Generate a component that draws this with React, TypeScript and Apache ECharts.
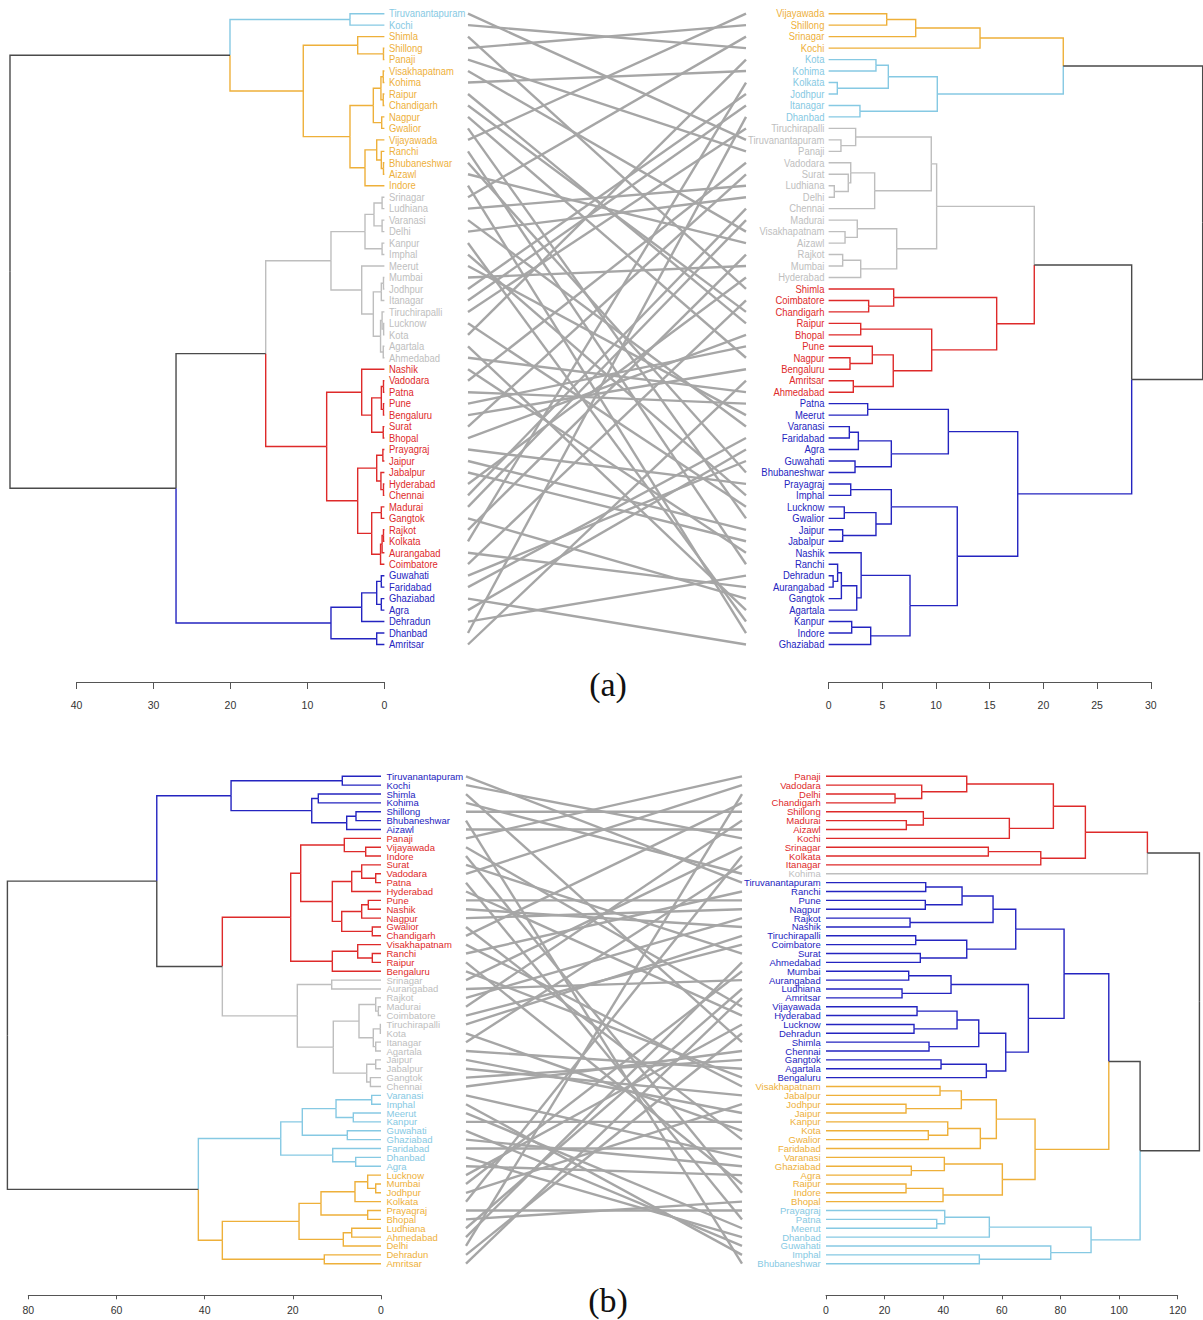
import React, { useEffect, useRef } from "react";
import * as echarts from "echarts";

// Tree node: leaf name | [mergeHeight, left, right] | cluster wrapper {c: colourKey, t: node}
type Node = any;
const C = (c: string, t: Node): Node => ({ c, t });

const COLORS: Record<string, string> = {
  black: "#4a4a4a",
  cyan: "#86c9e3",
  orange: "#eeb03a",
  grey: "#bebebe",
  red: "#de2a2a",
  blue: "#2424c0",
};

// ---------- (a) left dendrogram ----------
const aLeftCyan: Node = [4.47, "Tiruvanantapuram", "Kochi"];
const aLeftOrange: Node = [10.54,
  [3.47, "Shimla", [0.12, "Shillong", "Panaji"]],
  [4.47,
    [1.44, [0.45, [0.15, "Visakhapatnam", "Kohima"], [0.15, "Raipur", "Chandigarh"]], [0.35, "Nagpur", "Gwalior"]],
    [2.52, [1.0, "Vijayawada", [0.4, "Ranchi", [0.12, "Bhubaneshwar", "Aizawl"]]], "Indore"]]];
const aLeftGrey: Node = [6.94,
  [2.52, [1.35, [0.3, "Srinagar", "Ludhiana"], [0.3, "Varanasi", "Delhi"]], [0.3, "Kanpur", "Imphal"]],
  [2.95, "Meerut",
    [1.44, [0.4, [0.12, "Mumbai", "Jodhpur"], "Itanagar"],
      [0.5, [0.3, "Tiruchirapalli", [0.1, "Lucknow", "Kota"]], [0.15, "Agartala", "Ahmedabad"]]]]];
const aLeftRed: Node = [7.5,
  [2.95, "Nashik", [1.65, [0.4, [0.12, "Vadodara", "Patna"], [0.12, "Pune", "Bengaluru"]], [0.15, "Surat", "Bhopal"]]],
  [3.47,
    [1.0, [0.2, "Prayagraj", "Jaipur"], [0.45, "Jabalpur", [0.12, "Hyderabad", "Chennai"]]],
    [1.65, [0.4, "Madurai", "Gangtok"], [0.5, [0.3, [0.12, "Rajkot", "Kolkata"], "Aurangabad"], "Coimbatore"]]]];
const aLeftBlue: Node = [6.94,
  [2.95, [1.0, [0.4, "Guwahati", "Faridabad"], [0.4, "Ghaziabad", "Agra"]], "Dehradun"],
  [1.0, "Dhanbad", "Amritsar"]];
const aLeftTree: Node = [48.64,
  [20.06, C("cyan", aLeftCyan), C("orange", aLeftOrange)],
  [27.07, [15.42, C("grey", aLeftGrey), C("red", aLeftRed)], C("blue", aLeftBlue)]];

// ---------- (a) right dendrogram ----------
const aRightOrange: Node = [14.1, [8.11, [5.41, "Vijayawada", "Shillong"], "Srinagar"], "Kochi"];
const aRightCyan: Node = [10.12, [5.56, [4.41, "Kota", "Kohima"], [0.81, "Kolkata", "Jodhpur"]], [2.92, "Itanagar", "Dhanbad"]];
const aRightGrey: Node = [10.06,
  [9.56, [2.52, "Tiruchirapalli", [1.15, "Tiruvanantapuram", "Panaji"]],
    [4.29, [2.06, "Vadodara", [1.83, "Surat", [0.53, "Ludhiana", "Delhi"]]], "Chennai"]],
  [6.34, [2.67, "Madurai", [1.53, "Visakhapatnam", "Aizawl"]], [2.99, [1.31, "Rajkot", "Mumbai"], "Hyderabad"]]];
const aRightRed: Node = [15.65,
  [6.06, "Shimla", [3.73, "Coimbatore", "Chandigarh"]],
  [9.6, [2.99, "Raipur", "Bhopal"], [6.02, [4.07, "Pune", [1.99, "Nagpur", "Bengaluru"]], [2.3, "Amritsar", "Ahmedabad"]]]];
const aRightBlue: Node = [17.61,
  [11.15, [3.64, "Patna", "Meerut"], [5.84, [2.77, [1.93, "Varanasi", "Faridabad"], "Agra"], [2.46, "Guwahati", "Bhubaneshwar"]]],
  [11.98, [5.84, [2.06, "Prayagraj", "Imphal"], [4.41, [1.46, "Lucknow", "Gwalior"], [1.31, "Jaipur", "Jabalpur"]]],
    [7.58, [3.03, "Nashik", [2.62, [1.19, [0.84, "Ranchi", [0.42, "Dehradun", "Aurangabad"]], "Gangtok"], "Agartala"]],
      [3.92, [2.15, "Kanpur", "Indore"], "Ghaziabad"]]]];
const aRightTree: Node = [34.83,
  [21.85, C("orange", aRightOrange), C("cyan", aRightCyan)],
  [28.22, [19.15, C("grey", aRightGrey), C("red", aRightRed)], C("blue", aRightBlue)]];

// ---------- (b) left dendrogram ----------
const bLeftBlue: Node = [34.01, [8.78, "Tiruvanantapuram", "Kochi"],
  [15.71, [14.22, "Shimla", "Kohima"], [7.78, [5.67, "Shillong", "Bhubaneshwar"], "Aizawl"]]];
const bLeftRed: Node = [20.48,
  [18.21, [8.32, "Panaji", [3.47, "Vijayawada", "Indore"]],
    [11.04, [6.64, [4.38, "Surat", [1.2, "Vadodara", "Patna"]], "Hyderabad"],
      [8.91, [4.38, [2.88, "Pune", "Nashik"], "Nagpur"], [1.97, "Gwalior", "Chandigarh"]]]],
  [11.04, [5.28, "Visakhapatnam", [1.97, "Ranchi", "Raipur"]], "Bengaluru"]];
const bLeftGrey: Node = [18.98, [11.18, "Srinagar", "Aurangabad"],
  [10.82, [4.99, [1.2, "Rajkot", [0.6, "Madurai", "Coimbatore"]], [1.75, [0.15, "Tiruchirapalli", "Kota"], [1.2, "Itanagar", "Agartala"]]],
    [3.24, [1.2, "Jaipur", "Jabalpur"], [2.4, "Gangtok", "Chennai"]]]];
const bLeftCyan: Node = [22.74,
  [17.85, [10.2, [2.11, "Varanasi", "Imphal"], [6.28, "Meerut", "Kanpur"]], [7.64, "Guwahati", "Ghaziabad"]],
  [10.95, "Faridabad", [5.74, "Dhanbad", "Agra"]]];
const bLeftOrange: Node = [35.99,
  [18.59, [13.61, [5.9, [3.02, "Lucknow", [1.2, "Mumbai", "Jodhpur"]], "Kolkata"], [3.02, "Prayagraj", "Bhopal"]],
    [8.55, [6.64, "Ludhiana", "Ahmedabad"], "Delhi"]],
  [12.86, "Dehradun", "Amritsar"]];
const bLeftTree: Node = [84.74,
  [50.86, C("blue", bLeftBlue), [35.99, C("red", bLeftRed), C("grey", bLeftGrey)]],
  [41.43, C("cyan", bLeftCyan), C("orange", bLeftOrange)]];

// ---------- (b) right dendrogram ----------
const bRightRed: Node = [88.5,
  [77.58, [48.02, "Panaji", [32.66, "Vadodara", [23.55, "Delhi", "Chandigarh"]]],
    [62.56, [33.21, "Shillong", [27.41, "Madurai", "Aizawl"]], "Kochi"]],
  [73.28, [55.39, "Srinagar", "Kolkata"], "Itanagar"]];
const bRightBlue: Node = [81.23,
  [64.74, [57.0, [46.42, [34.03, "Tiruvanantapuram", "Ranchi"], [33.89, "Pune", "Nagpur"]], [28.67, "Rajkot", "Nashik"]],
    [48.02, [30.61, "Tiruchirapalli", "Coimbatore"], [32.18, "Surat", "Ahmedabad"]]],
  [69.04, [42.66, [28.22, "Mumbai", "Aurangabad"], [25.94, "Ludhiana", "Amritsar"]],
    [61.33, [52.12, [44.71, [31.06, "Vijayawada", "Hyderabad"], [30.03, "Lucknow", "Dehradun"]], [35.15, "Shimla", "Chennai"]],
      [54.71, [39.25, "Gangtok", "Agartala"], "Bengaluru"]]]];
const bRightOrange: Node = [71.33,
  [58.12, [46.18, [38.91, "Visakhapatnam", "Jabalpur"], [27.3, "Jodhpur", "Jaipur"]],
    [52.66, [41.54, "Kanpur", [34.91, "Kota", "Gwalior"]], "Faridabad"]],
  [60.17, [40.38, "Varanasi", [29.11, "Ghaziabad", "Agra"]], [39.93, [27.3, "Raipur", "Indore"], "Bhopal"]]];
const bRightCyan: Node = [90.44,
  [55.73, [40.51, "Prayagraj", [37.78, "Patna", "Meerut"]], "Dhanbad"],
  [76.69, "Guwahati", [52.32, "Imphal", "Bhubaneshwar"]]];
const bRightTree: Node = [127.41,
  [109.66, C("red", bRightRed), C("grey", "Kohima")],
  [107.17, [96.49, C("blue", bRightBlue), C("orange", bRightOrange)], C("cyan", bRightCyan)]];

// Axis tick settings
const aLeftAxis = { max: 40, interval: 10 };
const aRightAxis = { max: 30, interval: 5 };
const bLeftAxis = { max: 80, interval: 20 };
const bRightAxis = { max: 120, interval: 20 };

function build(tree: Node) {
  const leaves: { name: string; idx: number; col: string }[] = [];
  const edges: { pts: number[]; col: string }[] = [];
  const rec = (n: Node, col: string): { mid: number; h: number; col: string } => {
    if (typeof n === "string") {
      const idx = leaves.length;
      leaves.push({ name: n, idx, col });
      return { mid: idx, h: 0, col };
    }
    if (!Array.isArray(n)) return rec(n.t, n.c);
    const [h, a, b] = n;
    const ra = rec(a, col);
    const rb = rec(b, col);
    const mid = (ra.mid + rb.mid) / 2;
    for (const r of [ra, rb]) edges.push({ pts: [h, mid, h, r.mid, r.h, r.mid], col: r.col });
    return { mid, h, col };
  };
  rec(tree, "black");
  return { leaves, edges };
}

export default function App() {
  const ref = useRef<HTMLDivElement>(null);
  useEffect(() => {
    if (!ref.current) return;
    const chart = echarts.init(ref.current, undefined, { renderer: "svg" });

    const panels = [
      {
        left: build(aLeftTree), right: build(aRightTree),
        top: 13.7, height: 630.8, axisY: 682,
        lg: { left: 76.5, width: 307.9, ax: aLeftAxis },
        rg: { left: 828.6, width: 322.2, ax: aRightAxis },
        mg: { left: 468, width: 278 },
        font: 11, sx: 0.86, ldx: 4.6, rdx: -4.2,
        tick: 7, margin: 17, caption: "(a)", capY: 684,
      },
      {
        left: build(bLeftTree), right: build(bRightTree),
        top: 776.3, height: 487.4, axisY: 1295.3,
        lg: { left: 28.3, width: 352.7, ax: bLeftAxis },
        rg: { left: 826, width: 351.7, ax: bRightAxis },
        mg: { left: 466, width: 276 },
        font: 9.5, sx: 1.0, ldx: 5.5, rdx: -5.3,
        tick: 4, margin: 9, caption: "(b)", capY: 1300,
      },
    ];

    const grid: any[] = [];
    const xAxis: any[] = [];
    const yAxis: any[] = [];
    const series: any[] = [];
    const graphic: any[] = [];
    const font = "Liberation Sans, Arial, sans-serif";

    const addAxis = (gi: number, p: any, g: any, inverse: boolean) => {
      xAxis.push({
        gridIndex: gi, type: "value", min: 0, max: g.ax.max, interval: g.ax.interval, inverse,
        position: "bottom", offset: p.axisY - (p.top + p.height),
        axisLine: { show: true, onZero: false, lineStyle: { color: "#555", width: 1 } },
        axisTick: { show: true, length: p.tick, lineStyle: { color: "#555", width: 1 } },
        axisLabel: { show: true, margin: p.margin, fontSize: 10.5, color: "#333", fontFamily: font },
        splitLine: { show: false },
      });
    };

    panels.forEach((p) => {
      const n = p.left.leaves.length;
      // left dendrogram grid
      const gL = grid.length;
      grid.push({ left: p.lg.left, width: p.lg.width, top: p.top, height: p.height });
      addAxis(gL, p, p.lg, true);
      yAxis.push({ gridIndex: gL, type: "value", min: 0, max: n - 1, inverse: true, show: false });
      // right dendrogram grid
      const gR = grid.length;
      grid.push({ left: p.rg.left, width: p.rg.width, top: p.top, height: p.height });
      addAxis(gR, p, p.rg, false);
      yAxis.push({ gridIndex: gR, type: "value", min: 0, max: n - 1, inverse: true, show: false });
      // middle grid
      const gM = grid.length;
      grid.push({ left: p.mg.left, width: p.mg.width, top: p.top, height: p.height });
      xAxis.push({ gridIndex: gM, type: "value", min: 0, max: 1, show: false });
      yAxis.push({ gridIndex: gM, type: "value", min: 0, max: n - 1, inverse: true, show: false });

      const dendro = (gi: number, d: any) => ({
        type: "custom", xAxisIndex: gi, yAxisIndex: gi, clip: false, silent: true,
        data: d.edges.map((e: any) => e.pts),
        renderItem: (params: any, api: any) => {
          const e = d.edges[params.dataIndex];
          const a = api.coord([e.pts[0], e.pts[1]]);
          const b = api.coord([e.pts[2], e.pts[3]]);
          const c = api.coord([e.pts[4], e.pts[5]]);
          return {
            type: "polyline", shape: { points: [a, b, c] },
            style: { stroke: COLORS[e.col], lineWidth: 1.4, fill: "none" },
          };
        },
      });
      const labels = (gi: number, d: any, dx: number, align: string) => ({
        type: "custom", xAxisIndex: gi, yAxisIndex: gi, clip: false, silent: true,
        data: d.leaves.map((l: any) => [0, l.idx]),
        renderItem: (params: any, api: any) => {
          const l = d.leaves[params.dataIndex];
          const pt = api.coord([0, l.idx]);
          return {
            type: "text", x: pt[0] + dx, y: pt[1], scaleX: p.sx,
            style: { text: l.name, fill: COLORS[l.col], fontSize: p.font, fontFamily: font, align, verticalAlign: "middle" },
          };
        },
      });
      series.push(dendro(gL, p.left), labels(gL, p.left, p.ldx, "left"));
      series.push(dendro(gR, p.right), labels(gR, p.right, p.rdx, "right"));

      const rightIndex: Record<string, number> = {};
      p.right.leaves.forEach((l: any) => (rightIndex[l.name] = l.idx));
      const links = p.left.leaves.map((l: any) => [0, l.idx, 1, rightIndex[l.name]]);
      series.push({
        type: "custom", xAxisIndex: gM, yAxisIndex: gM, clip: false, silent: true,
        data: links,
        renderItem: (params: any, api: any) => {
          const k = links[params.dataIndex];
          const a = api.coord([k[0], k[1]]);
          const b = api.coord([k[2], k[3]]);
          return { type: "line", shape: { x1: a[0], y1: a[1], x2: b[0], y2: b[1] }, style: { stroke: "#a6a6a6", lineWidth: 2.4 } };
        },
      });

      graphic.push({
        type: "text", x: 608, y: p.capY,
        style: { text: p.caption, fontSize: 34, fontFamily: "Liberation Serif, Times New Roman, serif", fill: "#111", align: "center", verticalAlign: "middle" },
      });
    });

    chart.setOption({ animation: false, backgroundColor: "#ffffff", grid, xAxis, yAxis, series, graphic });
    return () => chart.dispose();
  }, []);
  return <div ref={ref} style={{ position: "absolute", left: 0, top: 0, width: 1203, height: 1320 }} />;
}
